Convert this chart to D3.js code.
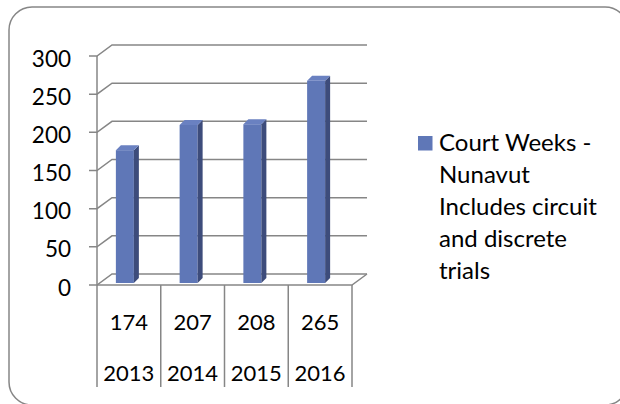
<!DOCTYPE html>
<meta charset="utf-8">
<style>
  body { margin: 0; background: #fff; }
  text { font-family: Lato, "Noto Sans", sans-serif; fill: #000; }
</style>
<svg width="620" height="404"></svg>
<script src="https://cdn.jsdelivr.net/npm/d3@7"></script>
<script>
  // chart data
  const years = ['2013', '2014', '2015', '2016']
  const courtWeeks = [174, 207, 208, 265]
  const yTicks = [0, 50, 100, 150, 200, 250, 300]
  const legendLines = ['Court Weeks -', 'Nunavut', 'Includes circuit', 'and discrete', 'trials']

  const svg = d3.select('svg')
  const gridColor = '#868686'

  // oblique depth of the back wall and of the bars
  const wallDx = 15, wallDy = -11
  const barDx = 5, barDy = -5

  const x = d3.scaleBand().domain(years).range([97, 352])
  const y = d3.scaleLinear().domain([0, 300]).range([285, 56])

  // outer frame
  svg.append('rect')
    .attr('x', 9).attr('y', 7)
    .attr('width', 619).attr('height', 398)
    .attr('rx', 23)
    .attr('fill', 'none')
    .attr('stroke', gridColor)
    .attr('stroke-width', 1.5)

  const grid = svg.append('g')
    .attr('stroke', gridColor)
    .attr('stroke-width', 1.5)
    .attr('fill', 'none')

  const x0 = x.range()[0], x1 = x.range()[1]

  // gridlines on the back wall with the diagonals to the front axis
  yTicks.forEach(t => {
    grid.append('path')
      .attr('d', `M${x0 - 8},${y(t)}H${x0}L${x0 + wallDx},${y(t) + wallDy}H${x1 + wallDx}`)
  })

  // floor
  grid.append('path')
    .attr('d', `M${x0},${y(0)}H${x1}L${x1 + wallDx},${y(0) + wallDy}`)

  // front value axis, extended down through the data table
  grid.append('line')
    .attr('x1', x0).attr('x2', x0)
    .attr('y1', y(300)).attr('y2', 387)

  // data table column lines
  years.forEach(yr => {
    const xe = x(yr) + x.bandwidth()
    grid.append('line')
      .attr('x1', xe).attr('x2', xe)
      .attr('y1', y(0)).attr('y2', 387)
  })

  // y labels
  svg.append('g')
    .selectAll('text')
    .data(yTicks)
    .enter().append('text')
    .attr('x', 71)
    .attr('y', t => y(t) + 2)
    .attr('text-anchor', 'end')
    .attr('dominant-baseline', 'central')
    .attr('font-size', 22.5)
    .text(t => t)

  // bars
  const barW = 18
  const bars = svg.append('g')
    .selectAll('g')
    .data(courtWeeks)
    .enter().append('g')

  const bx = (d, i) => x(years[i]) + x.bandwidth() / 2 - 4 - barW / 2
  const barBase = y(0) - 2
  const barTop = d => y(d) - 2

  bars.append('rect')
    .attr('x', bx)
    .attr('y', d => barTop(d))
    .attr('width', barW)
    .attr('height', d => barBase - barTop(d))
    .attr('fill', '#5f77b7')

  bars.append('path')
    .attr('fill', '#3d4c7b')
    .attr('d', (d, i) => {
      const r = bx(d, i) + barW
      return `M${r},${barTop(d)}L${r + barDx},${barTop(d) + barDy}V${barBase + barDy}L${r},${barBase}Z`
    })

  bars.append('path')
    .attr('fill', '#6a81c1')
    .attr('d', (d, i) => {
      const l = bx(d, i)
      return `M${l},${barTop(d)}L${l + barDx},${barTop(d) + barDy}H${l + barW + barDx}L${l + barW},${barTop(d)}Z`
    })

  // data table text
  const table = svg.append('g')
    .attr('text-anchor', 'middle')
    .attr('dominant-baseline', 'central')
    .attr('font-size', 22)

  table.selectAll('.val')
    .data(courtWeeks)
    .enter().append('text')
    .attr('class', 'val')
    .attr('x', (d, i) => x(years[i]) + x.bandwidth() / 2)
    .attr('y', 321)
    .text(d => d)

  table.selectAll('.yr')
    .data(years)
    .enter().append('text')
    .attr('class', 'yr')
    .attr('x', d => x(d) + x.bandwidth() / 2)
    .attr('y', 372)
    .text(d => d)

  // legend
  svg.append('rect')
    .attr('x', 418).attr('y', 136)
    .attr('width', 14.5).attr('height', 14.5)
    .attr('fill', '#5f77b7')

  svg.append('g')
    .selectAll('text')
    .data(legendLines)
    .enter().append('text')
    .attr('x', 439)
    .attr('y', (d, i) => 151 + i * 32)
    .attr('font-size', 24)
    .text(d => d)
</script>
